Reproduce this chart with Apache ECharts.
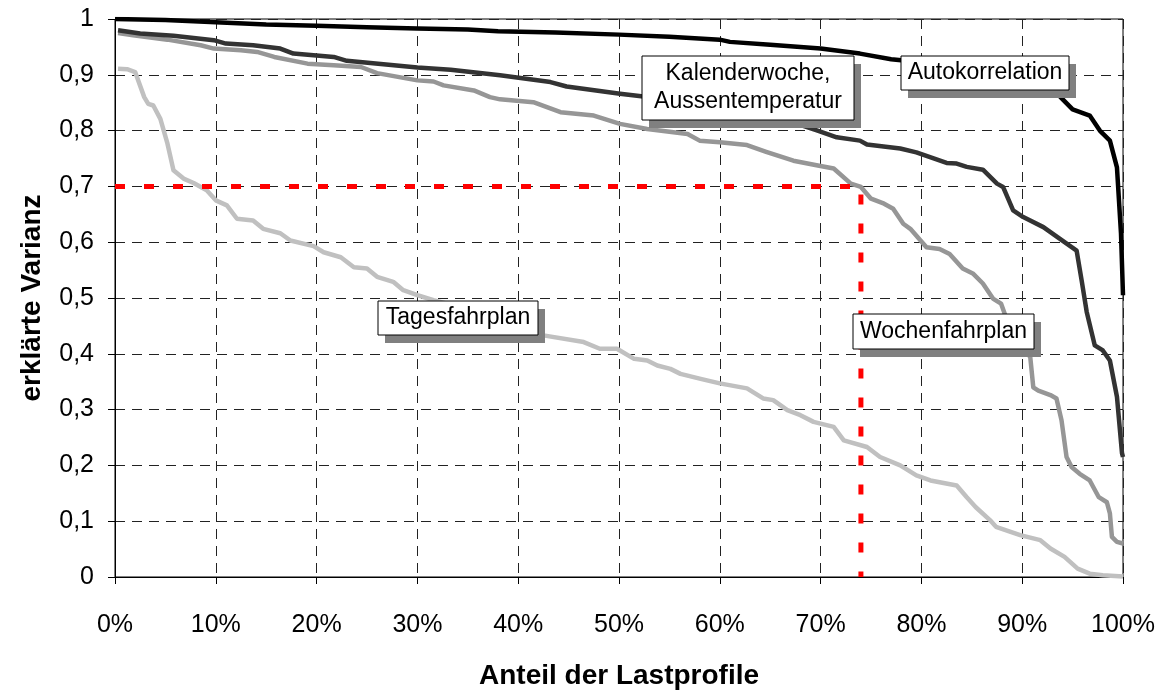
<!DOCTYPE html>
<html>
<head>
<meta charset="utf-8">
<script src="https://cdn.jsdelivr.net/npm/echarts@6/dist/echarts.min.js"></script>
<style>
html,body{margin:0;padding:0;background:#fff;}
#chart{width:1166px;height:695px;}
</style>
</head>
<body>
<div id="chart"></div>
<script>
// ---- Data (x = Anteil der Lastprofile in %, y = erklärte Varianz) ----
const seriesNames = ['Tagesfahrplan', 'Wochenfahrplan', 'Kalenderwoche, Aussentemperatur', 'Autokorrelation'];

const tagesfahrplan = [[0.3,0.911],[1.2,0.91],[2,0.905],[2.9,0.86],[3.3,0.848],[3.8,0.845],[4.5,0.821],[5.2,0.777],[5.8,0.729],[6.8,0.714],[7.8,0.706],[9.1,0.693],[10,0.675],[11.1,0.666],[12.1,0.642],[13.7,0.639],[14.7,0.624],[16.4,0.616],[17.4,0.603],[19.7,0.593],[20.7,0.582],[22.4,0.573],[23.7,0.555],[25,0.553],[26,0.538],[27.6,0.529],[28.6,0.514],[30,0.505],[31.6,0.496],[34,0.485],[37,0.468],[40,0.452],[42.5,0.433],[46.5,0.421],[48.1,0.409],[49.8,0.409],[51.5,0.391],[52.8,0.388],[53.8,0.379],[55.1,0.373],[56.1,0.364],[58.1,0.355],[60,0.347],[62.7,0.338],[64.3,0.32],[65.3,0.317],[66.7,0.299],[68,0.29],[69.3,0.278],[71.3,0.269],[72.3,0.245],[74.6,0.233],[75.9,0.215],[77.9,0.2],[79.5,0.182],[80.9,0.173],[83.5,0.164],[84.5,0.143],[85.4,0.125],[86.8,0.102],[87.4,0.09],[89.8,0.075],[91.8,0.066],[92.8,0.051],[94.2,0.036],[95.5,0.015],[96.7,0.006],[98,0.003],[100,0.001]];

const wochenfahrplan = [[0.3,0.975],[1.8,0.971],[5.2,0.963],[8.5,0.953],[9.8,0.947],[12.5,0.944],[14.1,0.941],[15.8,0.932],[19.1,0.92],[21.7,0.917],[24.4,0.914],[26,0.903],[30,0.89],[31.6,0.888],[32.6,0.881],[35.6,0.872],[37.2,0.86],[38.2,0.856],[41.5,0.851],[44.2,0.833],[47.5,0.827],[50.1,0.812],[52.8,0.803],[56.8,0.794],[58,0.782],[60,0.779],[62.7,0.774],[64.6,0.762],[67.3,0.746],[69.6,0.738],[71.3,0.732],[73,0.705],[74,0.699],[75,0.678],[76.3,0.669],[77.2,0.66],[78.2,0.633],[78.9,0.624],[80.5,0.591],[81.8,0.588],[82.8,0.579],[84.1,0.553],[85.1,0.544],[86.1,0.526],[87.1,0.499],[87.9,0.49],[88.3,0.47],[89.5,0.43],[90.8,0.394],[91.1,0.34],[91.6,0.334],[92.8,0.326],[93.4,0.32],[93.9,0.281],[94.4,0.215],[94.9,0.197],[95.7,0.185],[96.7,0.173],[97.6,0.143],[98.4,0.134],[98.7,0.114],[98.9,0.072],[99.4,0.063],[100,0.06]];

const kalenderwoche = [[0.3,0.98],[2.5,0.974],[5.8,0.97],[9.8,0.962],[11,0.956],[13.7,0.953],[16.4,0.947],[17.7,0.938],[21.7,0.932],[23,0.925],[30,0.913],[33.3,0.909],[38.2,0.899],[43.2,0.887],[44.8,0.879],[50.1,0.866],[52,0.862],[56,0.853],[60,0.843],[64,0.83],[67,0.816],[69.7,0.8],[71.6,0.788],[73.9,0.782],[74.6,0.775],[77.9,0.768],[79.5,0.761],[82.5,0.742],[83.5,0.741],[84.5,0.735],[86.1,0.73],[87.5,0.705],[88.1,0.699],[89.1,0.657],[90.1,0.645],[92.1,0.627],[93.5,0.609],[95.4,0.585],[95.9,0.531],[96.4,0.475],[97.2,0.415],[98,0.406],[98.7,0.388],[99.4,0.323],[99.9,0.222],[100,0.215]];

const autokorrelation = [[0,1.0],[5,0.998],[10,0.994],[15,0.99],[20,0.988],[25,0.985],[30,0.983],[35,0.981],[38,0.978],[43.7,0.976],[50,0.972],[55,0.968],[60,0.963],[61,0.959],[65,0.954],[70,0.947],[73.9,0.938],[77,0.928],[78,0.926],[82,0.92],[86,0.91],[90,0.895],[93,0.872],[93.8,0.86],[95,0.838],[96.7,0.827],[97.7,0.8],[98.7,0.782],[99.4,0.734],[99.8,0.616],[100,0.505]];

// threshold markers (red dotted lines)
const thresholdVarianz = 0.7;
const thresholdAnteil = 74;

const xTickValues = [0,10,20,30,40,50,60,70,80,90,100];
const xTickLabels = ['0%','10%','20%','30%','40%','50%','60%','70%','80%','90%','100%'];
const yTickValues = [0,0.1,0.2,0.3,0.4,0.5,0.6,0.7,0.8,0.9,1];
const yTickLabels = ['0','0,1','0,2','0,3','0,4','0,5','0,6','0,7','0,8','0,9','1'];

const xTitle = 'Anteil der Lastprofile';
const yTitle = 'erklärte Varianz';

// ---- Chart ----
const FONT = '"Liberation Sans", Arial, sans-serif';
const chart = echarts.init(document.getElementById('chart'), null, {renderer: 'canvas'});

function lookup(values, labels, v) {
  for (let i = 0; i < values.length; i++) {
    if (Math.abs(values[i] - v) < 1e-6) return labels[i];
  }
  return '';
}

function labelBox(x, y, w, h, lines) {
  return [
    {type: 'rect', z: 100, shape: {x: x + 7, y: y + 8, width: w, height: h}, style: {fill: '#808080'}},
    {type: 'rect', z: 101, shape: {x: x, y: y, width: w, height: h}, style: {fill: '#fff', stroke: '#000', lineWidth: 1}},
    {type: 'text', z: 102, x: x + w / 2, y: y + h / 2, style: {text: lines, fill: '#000', font: '23px ' + FONT, align: 'center', verticalAlign: 'middle', lineHeight: 28}}
  ];
}

const lineColors = ['#c0c0c0', '#969696', '#333333', '#000000'];
const lineData = [tagesfahrplan, wochenfahrplan, kalenderwoche, autokorrelation];

const series = lineData.map((d, i) => ({
  name: seriesNames[i],
  type: 'line',
  data: d,
  symbol: 'none',
  smooth: false,
  lineStyle: {color: lineColors[i], width: 4.5, join: 'round'},
  z: 2 + i
}));

series.push({
  name: 'Schwelle',
  type: 'line',
  data: [[0, thresholdVarianz], [thresholdAnteil, thresholdVarianz], [thresholdAnteil, 0]],
  symbol: 'none',
  lineStyle: {color: '#ff0000', width: 5, type: [10, 19], cap: 'butt'},
  z: 10
});

const option = {
  animation: false,
  backgroundColor: '#fff',
  grid: {left: 115, top: 19, width: 1008, height: 558, show: true, borderColor: '#000', borderWidth: 1, backgroundColor: 'transparent'},
  xAxis: {
    type: 'value', min: 0, max: 100, interval: 10,
    name: xTitle, nameLocation: 'middle', nameGap: 85,
    nameTextStyle: {fontFamily: FONT, fontSize: 28, fontWeight: 'bold', color: '#000'},
    axisLine: {show: true, lineStyle: {color: '#000', width: 1}},
    axisTick: {show: true, length: 7, lineStyle: {color: '#000'}},
    axisLabel: {margin: 36, fontFamily: FONT, fontSize: 25, color: '#000', formatter: v => lookup(xTickValues, xTickLabels, v)},
    splitLine: {show: true, lineStyle: {color: '#222', width: 1, type: [10, 7]}}
  },
  yAxis: {
    type: 'value', min: 0, max: 1, interval: 0.1,
    name: yTitle, nameLocation: 'middle', nameGap: 69, nameRotate: 90,
    nameTextStyle: {fontFamily: FONT, fontSize: 28, fontWeight: 'bold', color: '#000'},
    axisLine: {show: true, lineStyle: {color: '#000', width: 1}},
    axisTick: {show: true, length: 7, lineStyle: {color: '#000'}},
    axisLabel: {margin: 21, padding: [6, 0, 0, 0], fontFamily: FONT, fontSize: 25, color: '#000', formatter: v => lookup(yTickValues, yTickLabels, v)},
    splitLine: {show: true, lineStyle: {color: '#222', width: 1, type: [10, 7]}}
  },
  series: series,
  graphic: [].concat(
    labelBox(378, 301, 160, 34, 'Tagesfahrplan'),
    labelBox(642, 56, 212, 64, 'Kalenderwoche,\nAussentemperatur'),
    labelBox(901, 56, 168, 34, 'Autokorrelation'),
    labelBox(853, 314, 181, 35, 'Wochenfahrplan')
  )
};
chart.setOption(option);
</script>
</body>
</html>
